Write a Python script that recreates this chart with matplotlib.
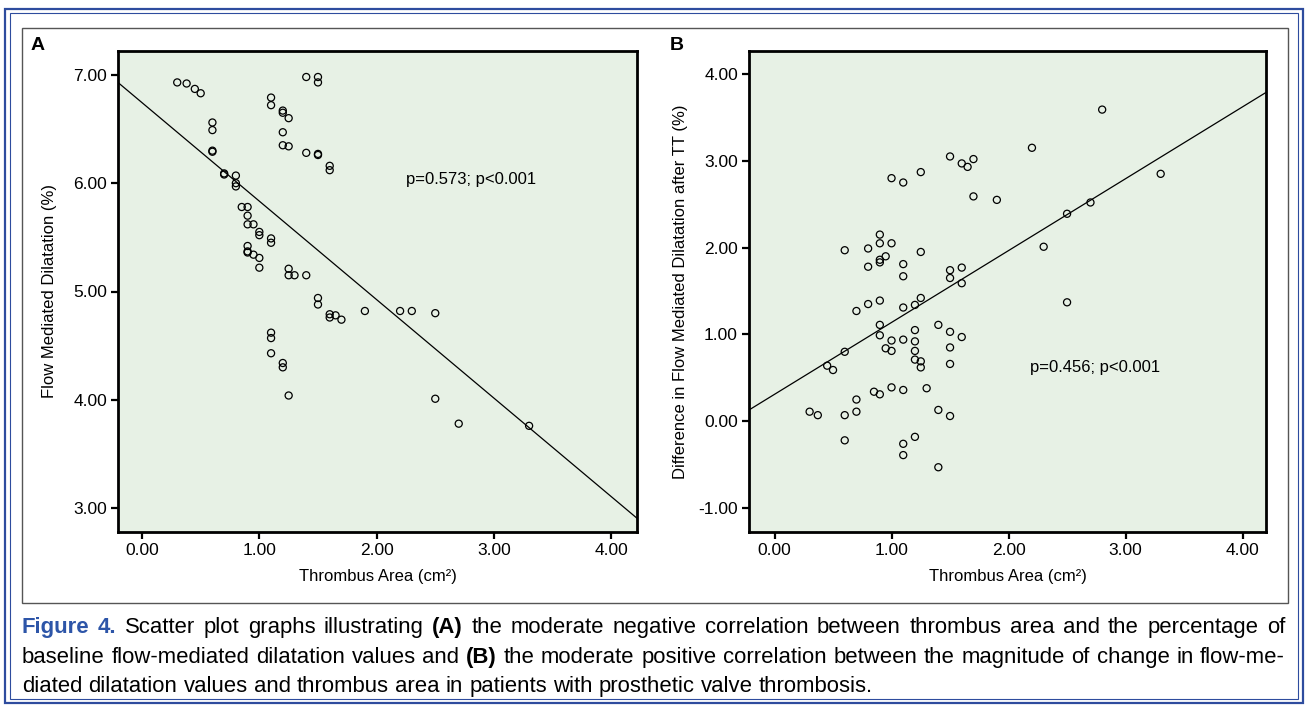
import numpy as np
import matplotlib.pyplot as plt
from matplotlib.patches import Rectangle
from matplotlib.ticker import FormatStrFormatter

# ---------------- data ----------------
# Panel A: thrombus area vs baseline FMD
area_a = [0.30, 0.38, 0.45, 0.50, 0.60, 0.60, 0.60, 0.60, 0.70, 0.70,
          0.80, 0.80, 0.80, 0.85, 0.90, 0.90, 0.90, 0.95, 1.00, 1.00,
          1.10, 1.10, 0.90, 0.90, 0.90, 0.95, 1.00, 1.00, 1.25, 1.25,
          1.30, 1.40, 1.50, 1.50, 1.60, 1.60, 1.65, 1.70, 1.90, 2.20,
          2.30, 2.50, 1.10, 1.10, 1.20, 1.20, 1.25, 1.20, 1.20, 1.25,
          1.40, 1.50, 1.50, 1.40, 1.50, 1.50, 1.60, 1.60, 1.10, 1.10,
          1.10, 1.20, 1.20, 1.25, 2.50, 2.70, 3.30]
fmd_a = [6.93, 6.92, 6.87, 6.83, 6.56, 6.49, 6.30, 6.29, 6.09, 6.08,
         6.07, 6.00, 5.97, 5.78, 5.78, 5.70, 5.62, 5.62, 5.55, 5.52,
         5.49, 5.45, 5.42, 5.37, 5.36, 5.34, 5.31, 5.22, 5.21, 5.15,
         5.15, 5.15, 4.94, 4.88, 4.79, 4.76, 4.78, 4.74, 4.82, 4.82,
         4.82, 4.80, 6.79, 6.72, 6.67, 6.65, 6.60, 6.47, 6.35, 6.34,
         6.98, 6.98, 6.93, 6.28, 6.27, 6.26, 6.16, 6.12, 4.62, 4.57,
         4.43, 4.34, 4.30, 4.04, 4.01, 3.78, 3.76]
fit_a = (6.743, -0.909)  # intercept, slope of drawn regression line

# Panel B: thrombus area vs change in FMD after TT
area_b = [2.80, 2.20, 3.30, 1.50, 1.60, 1.65, 1.70, 1.25, 1.00, 1.10,
          1.70, 1.90, 2.70, 2.50, 2.30, 2.50, 0.60, 0.80, 0.90, 0.90,
          1.00, 0.95, 0.90, 0.90, 0.80, 1.10, 1.25, 1.10, 1.50, 1.50,
          1.60, 1.60, 0.90, 0.80, 0.70, 1.10, 1.20, 1.25, 0.90, 0.90,
          1.00, 1.10, 1.20, 1.40, 1.50, 1.60, 0.95, 1.00, 1.20, 1.20,
          1.50, 1.20, 1.25, 1.25, 1.50, 0.60, 0.45, 0.50, 0.85, 0.90,
          1.00, 1.10, 1.30, 0.70, 0.30, 0.37, 0.60, 0.70, 1.40, 1.50,
          0.60, 1.20, 1.10, 1.10, 1.40]
dfmd_b = [3.59, 3.15, 2.85, 3.05, 2.97, 2.93, 3.02, 2.87, 2.80, 2.75,
          2.59, 2.55, 2.52, 2.39, 2.01, 1.37, 1.97, 1.99, 2.15, 2.05,
          2.05, 1.90, 1.86, 1.83, 1.78, 1.81, 1.95, 1.67, 1.74, 1.65,
          1.77, 1.59, 1.39, 1.35, 1.27, 1.31, 1.34, 1.42, 1.11, 0.99,
          0.93, 0.94, 1.05, 1.11, 1.03, 0.97, 0.84, 0.81, 0.92, 0.81,
          0.85, 0.71, 0.69, 0.62, 0.66, 0.80, 0.64, 0.59, 0.34, 0.31,
          0.39, 0.36, 0.38, 0.25, 0.11, 0.07, 0.07, 0.11, 0.13, 0.06,
          -0.22, -0.18, -0.26, -0.39, -0.53]
fit_b = (0.31, 0.828)

x_ticks = [0, 1, 2, 3, 4]
y_ticks_a = [3, 4, 5, 6, 7]
y_ticks_b = [-1, 0, 1, 2, 3, 4]

caption_lines = [
    [("Figure", "bold", "#2d55a8"), ("4.", "bold", "#2d55a8"), ("Scatter", "normal", "k"),
     ("plot", "normal", "k"), ("graphs", "normal", "k"), ("illustrating", "normal", "k"),
     ("(A)", "bold", "k")] + [(w, "normal", "k") for w in
     "the moderate negative correlation between thrombus area and the percentage of".split()],
    [(w, "normal", "k") for w in "baseline flow-mediated dilatation values and".split()]
    + [("(B)", "bold", "k")] + [(w, "normal", "k") for w in
     "the moderate positive correlation between the magnitude of change in flow-me-".split()],
    [(w, "normal", "k") for w in
     "diated dilatation values and thrombus area in patients with prosthetic valve thrombosis.".split()],
]

# ---------------- figure ----------------
W, H = 1308, 707
plt.rcParams['font.family'] = ['Liberation Sans', 'DejaVu Sans']
fig = plt.figure(figsize=(W / 100, H / 100), dpi=100)

def px_rect(l, t, r, b):
    return [l / W, 1 - b / H, (r - l) / W, (b - t) / H]

# borders
fig.patches.append(Rectangle((5 / W, 1 - 703 / H), 1298 / W, 694 / H, transform=fig.transFigure,
                             fill=False, ec="#2e4c9e", lw=1.6))
fig.patches.append(Rectangle((10 / W, 1 - 699 / H), 1288 / W, 686 / H, transform=fig.transFigure,
                             fill=False, ec="#2e4c9e", lw=0.8))
fig.patches.append(Rectangle((22 / W, 1 - 603 / H), 1266 / W, 575 / H, transform=fig.transFigure,
                             fill=False, ec="#555555", lw=1.0))

ax_a = fig.add_axes(px_rect(118, 51, 637, 532))
ax_b = fig.add_axes(px_rect(749, 51, 1266, 532))

def style_axes(ax, yticks, ylim, ylabel, ypos):
    ax.set_facecolor("#e7f1e5")
    ax.set_xlim(-0.205, 4.22)
    ax.set_ylim(*ylim)
    ax.set_xticks(x_ticks)
    ax.set_yticks(yticks)
    ax.xaxis.set_major_formatter(FormatStrFormatter("%.2f"))
    ax.yaxis.set_major_formatter(FormatStrFormatter("%.2f"))
    for s in ax.spines.values():
        s.set_linewidth(2.0)
    ax.tick_params(direction="out", length=5, width=1.6, labelsize=12.5, pad=3)
    ax.set_xlabel("Thrombus Area (cm²)", fontsize=12, va="center")
    ax.xaxis.set_label_coords(0.5, -45 / 481)
    ax.set_ylabel(ylabel, fontsize=12, va="center")
    ax.yaxis.set_label_coords(ypos, 0.5)

style_axes(ax_a, y_ticks_a, (2.78, 7.22), "Flow Mediated Dilatation (%)", -68 / 519)
style_axes(ax_b, y_ticks_b, (-1.276, 4.265), "Difference in Flow Mediated Dilatation after TT (%)", -68 / 517)
ax_b.set_xlim(-0.218, 4.2)

ax_a.scatter(area_a, fmd_a, s=26, facecolors="none", edgecolors="k", linewidths=0.9, zorder=3)
ax_b.scatter(area_b, dfmd_b, s=26, facecolors="none", edgecolors="k", linewidths=0.9, zorder=3)

for ax, (b0, b1) in [(ax_a, fit_a), (ax_b, fit_b)]:
    xl = np.array(ax.get_xlim())
    ax.plot(xl, b0 + b1 * xl, color="k", lw=0.9)

ax_a.text(2.25, 6.036, "p=0.573; p<0.001", fontsize=12, va="center", ha="left")
ax_b.text(2.18, 0.62, "p=0.456; p<0.001", fontsize=12, va="center", ha="left")

fig.text(31 / W, 1 - 50 / H, "A", fontsize=14, fontweight="bold", va="baseline")
fig.text(670 / W, 1 - 50 / H, "B", fontsize=14, fontweight="bold", va="baseline")

# ---------------- caption (justified like the journal layout) ----------------
r = fig.canvas.get_renderer()

def text_w(s, weight, fs):
    t = fig.text(0, 0, s, fontsize=fs, fontweight=weight)
    w = t.get_window_extent(renderer=r).width
    t.remove()
    return w

cap_left, cap_right = 22, 1285
fs0 = 14
sp0 = text_w("a a", "normal", fs0) - text_w("aa", "normal", fs0)
# pick the size at which the longest justified line just fits with normal spaces
factors = []
for line in caption_lines[:2]:
    nat = sum(text_w(w, wt, fs0) for w, wt, c in line) + (len(line) - 1) * sp0
    factors.append((cap_right - cap_left) / nat)
cap_fs = fs0 * min(factors)
space = text_w("a a", "normal", cap_fs) - text_w("aa", "normal", cap_fs)

baselines = [633, 663, 692]
for i, line in enumerate(caption_lines):
    widths = [text_w(w, wt, cap_fs) for w, wt, c in line]
    if i < 2:
        gap = (cap_right - cap_left - sum(widths)) / (len(line) - 1)
    else:
        gap = space
    x = cap_left
    for (w, wt, c), wd in zip(line, widths):
        fig.text(x / W, 1 - baselines[i] / H, w, fontsize=cap_fs, fontweight=wt,
                 color=c, va="baseline", ha="left")
        x += wd + gap

plt.savefig("out.png", dpi=100)
